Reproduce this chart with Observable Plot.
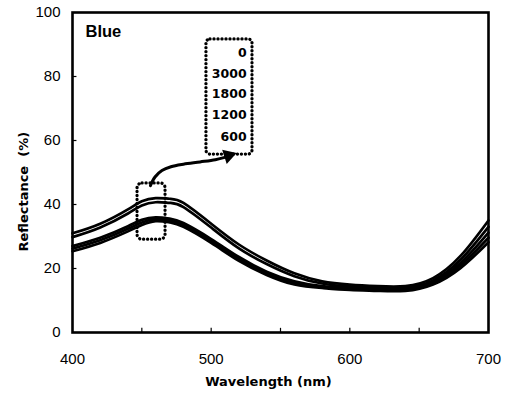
<!DOCTYPE html>
<html>
<head>
<meta charset="utf-8">
<script src="https://cdn.jsdelivr.net/npm/d3@7"></script>
<script src="https://cdn.jsdelivr.net/npm/@observablehq/plot@0.6"></script>
<style>
  html, body { margin: 0; padding: 0; background: #fff; }
  #chart { width: 510px; height: 396px; }
</style>
</head>
<body>
<div id="chart"></div>
<script>
// ---- data ----
const wavelengths = [400, 420, 440, 450, 460, 470, 480, 500, 520, 540, 560, 580, 600, 620, 640, 660, 680, 700];
const seriesNames = ["0", "3000", "1800", "1200", "600"];
const refl0    = [31.0, 34.0, 38.5, 41.0, 42.0, 41.8, 40.5, 34.0, 27.5, 22.5, 18.5, 16.0, 15.0, 14.5, 14.5, 17.0, 24.0, 35.0];
const refl3000 = [29.8, 32.8, 37.2, 39.7, 40.7, 40.5, 39.2, 32.8, 26.3, 21.4, 17.6, 15.3, 14.4, 14.0, 14.0, 16.3, 22.8, 33.0];
const refl1800 = [27.0, 29.6, 33.2, 35.2, 36.0, 35.6, 34.2, 29.2, 23.6, 19.0, 16.0, 14.5, 14.0, 13.6, 13.6, 15.9, 21.8, 31.2];
const refl1200 = [26.2, 28.8, 32.4, 34.4, 35.4, 35.0, 33.6, 28.6, 23.0, 18.5, 15.5, 14.2, 13.6, 13.3, 13.3, 15.4, 21.0, 29.6];
const refl600  = [25.4, 28.0, 31.6, 33.6, 34.8, 34.4, 33.0, 28.0, 22.4, 18.0, 15.0, 13.9, 13.3, 13.0, 13.0, 15.0, 20.2, 28.2];
const seriesValues = [refl0, refl3000, refl1800, refl1200, refl600];

const xTicks = [400, 500, 600, 700];
const xMinorTicks = [450, 500, 550, 600, 650];
const yTicks = [0, 20, 40, 60, 80, 100];
const panelLabel = "Blue";
const xTitle = "Wavelength (nm)";
const yTitle = "Reflectance  (%)";

// annotation geometry (data units)
const legendBox = {x1: 496.6, x2: 529.8, y1: 55.6, y2: 91.6};
const legendLabelX = 525.6;
const legendLabelY = [87.2, 80.9, 74.6, 68.0, 61.2];
const peakBox = {x1: 446.9, x2: 467.1, y1: 29.0, y2: 46.6};
const arrowPathX = [456.2, 459.5, 464.5, 471.0, 480.0, 492.0, 503.0, 510.5];
const arrowPathY = [45.9, 48.6, 50.6, 51.8, 52.6, 53.3, 54.0, 54.8];
const arrowHead = {x: 512.5, y: 55.3};

// ---- build table ----
const rows = [];
seriesNames.forEach((s, i) => {
  wavelengths.forEach((w, j) => rows.push({series: s, wl: w, r: seriesValues[i][j]}));
});
const legendRows = seriesNames.map((s, i) => ({label: s, x: legendLabelX, y: legendLabelY[i]}));
const arrowRows = arrowPathX.map((x, i) => ({x, y: arrowPathY[i]}));

const tickFont = "'Liberation Sans', Arial, Helvetica, sans-serif";
const boldFont = "'DejaVu Sans', 'Liberation Sans', Arial, sans-serif";

const chart = Plot.plot({
  width: 510,
  height: 396,
  marginLeft: 72,
  marginRight: 22,
  marginTop: 12,
  marginBottom: 64,
  style: {fontFamily: tickFont, fontSize: "15px", color: "#000", background: "#fff", overflow: "visible"},
  x: {domain: [400, 700], label: null},
  y: {domain: [0, 100], label: null},
  marks: [
    Plot.axisX({ticks: xTicks, tickSize: 0, tickPadding: 21, fontSize: 15, label: null}),
    Plot.axisY({ticks: yTicks, tickSize: 0, tickPadding: 12, fontSize: 15, label: null}),
    // inward ticks
    Plot.ruleX(xMinorTicks, {x: d => d, y1: 0, y2: 1.3, stroke: "#000", strokeWidth: 1.2}),
    Plot.ruleY(yTicks.slice(1, -1), {y: d => d, x1: 400, x2: 403.2, stroke: "#000", strokeWidth: 1.2}),
    // curves
    Plot.line(rows, {x: "wl", y: "r", z: "series", stroke: "#000", strokeWidth: 2.7, curve: "natural"}),
    // peak dotted box
    Plot.rect([peakBox], {x1: "x1", x2: "x2", y1: "y1", y2: "y2", fill: "none", stroke: "#000",
      strokeWidth: 3.3, strokeDasharray: "0.1 3.9", strokeLinecap: "round", rx: 5}),
    // legend dotted box
    Plot.rect([legendBox], {x1: "x1", x2: "x2", y1: "y1", y2: "y2", fill: "none", stroke: "#000",
      strokeWidth: 3.3, strokeDasharray: "0.1 3.9", strokeLinecap: "round", rx: 4}),
    Plot.text(legendRows, {x: "x", y: "y", text: "label", textAnchor: "end", fontFamily: boldFont,
      fontWeight: "bold", fontSize: 12.5, fill: "#000"}),
    // arrow
    Plot.line(arrowRows, {x: "x", y: "y", stroke: "#000", strokeWidth: 3, curve: "catmull-rom"}),
    Plot.dot([arrowHead], {x: "x", y: "y", symbol: "triangle", r: 5.5, fill: "#000", stroke: "none", rotate: 72}),
    // panel label
    Plot.text([panelLabel], {x: 409.4, y: 94, text: d => d, textAnchor: "start", fontFamily: tickFont,
      fontWeight: "bold", fontSize: 16.5, fill: "#000"}),
    // axis titles
    Plot.text([xTitle], {x: 541.3, y: -15.3, text: d => d, fontFamily: boldFont, fontWeight: "bold",
      fontSize: 13, fill: "#000"}),
    Plot.text([yTitle], {x: 364.7, y: 44, text: d => d, rotate: -90, fontFamily: boldFont, fontWeight: "bold",
      fontSize: 13, fill: "#000"}),
    Plot.frame({stroke: "#000", strokeWidth: 2.6})
  ]
});
document.getElementById("chart").appendChild(chart);
</script>
</body>
</html>
